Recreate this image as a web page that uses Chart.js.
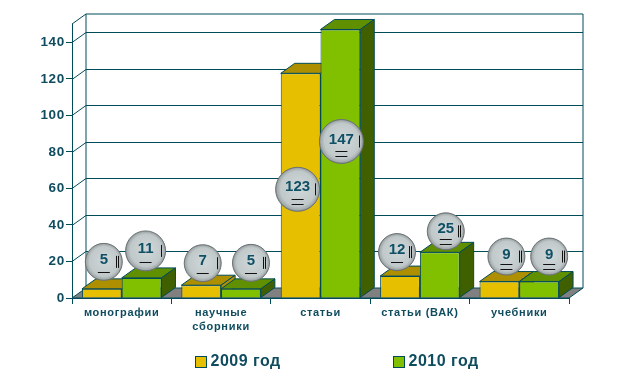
<!doctype html>
<html lang="ru">
<head>
<meta charset="utf-8">
<title>Публикации</title>
<style>
  html, body { margin: 0; background: #fff; }
  canvas { display: block; }
</style>
</head>
<body>
<canvas id="myChart" width="624" height="382"></canvas>
<script src="https://cdn.jsdelivr.net/npm/chart.js"></script>
<script>
const categories = ['монографии', ['научные', 'сборники'], 'статьи', 'статьи (ВАК)', 'учебники'];
const seriesNames = ['2009 год', '2010 год'];
const values2009 = [5, 7, 123, 12, 9];
const values2010 = [11, 5, 147, 25, 9];
const yTicks = [0, 20, 40, 60, 80, 100, 120, 140];

const LINE = '#004b5a';
const TEXT = '#0f4c5f';
const DEPTH_X = 14;
const DEPTH_Y = 10;
const faces = [
  { front: '#e6bf00', top: '#ad8f00', side: '#ad8f00' },
  { front: '#80c000', top: '#609000', side: '#406000' }
];

// where the value balloons sit relative to the top of their bar
const balloons = [
  { dx: [2, 1.5, -3, -3, 7], dy: [-27, -22, 116, -24, -25], r: [18.5, 18.5, 22, 18.5, 18.5], rules: [1, 1, 2, 1, 2], marks: [2, 1, 1, 2, 2] },
  { dx: [4, 10, 1, 6, 10], dy: [-27, -26, 112, -21, -25], r: [20, 18.5, 22, 18.5, 18.5], rules: [1, 1, 2, 2, 2], marks: [1, 2, 1, 2, 2] }
];

function poly(ctx, pts, fill) {
  ctx.beginPath();
  pts.forEach((p, i) => i ? ctx.lineTo(p[0], p[1]) : ctx.moveTo(p[0], p[1]));
  ctx.closePath();
  if (fill) {
    ctx.fillStyle = fill;
    ctx.fill();
  }
  ctx.strokeStyle = LINE;
  ctx.lineWidth = 1;
  ctx.stroke();
}

function line(ctx, x1, y1, x2, y2) {
  ctx.beginPath();
  ctx.moveTo(x1, y1);
  ctx.lineTo(x2, y2);
  ctx.strokeStyle = LINE;
  ctx.lineWidth = 1;
  ctx.stroke();
}

function drawBalloon(ctx, x, y, r, label, rules, marks) {
  ctx.save();
  ctx.beginPath();
  ctx.arc(x, y, r, 0, Math.PI * 2);
  const g = ctx.createRadialGradient(x + r * 0.1, y - r * 0.1, r * 0.2, x, y, r);
  g.addColorStop(0, '#ccd4d6');
  g.addColorStop(0.75, '#c0c8ca');
  g.addColorStop(0.93, '#a2aaac');
  g.addColorStop(1, '#7f8688');
  ctx.fillStyle = g;
  ctx.fill();
  ctx.strokeStyle = '#6c7375';
  ctx.lineWidth = 1;
  ctx.stroke();

  ctx.fillStyle = '#0f5065';
  ctx.font = 'bold 15px "Liberation Sans", Arial, sans-serif';
  ctx.letterSpacing = '0px';
  ctx.textAlign = 'center';
  ctx.textBaseline = 'middle';
  ctx.fillText(label, x, y - 2);

  ctx.strokeStyle = '#111';
  for (let i = 0; i < rules; i++) {
    const ry = Math.round(y + r * 0.55 - (rules - 1) * 2.5 + i * 5) + 0.5;
    ctx.beginPath();
    ctx.moveTo(x - 6, ry);
    ctx.lineTo(x + 6, ry);
    ctx.stroke();
  }
  for (let i = 0; i < marks; i++) {
    const mx = Math.round(x + r * 0.78 - i * 2) + 0.5;
    ctx.beginPath();
    ctx.moveTo(mx, y - 6);
    ctx.lineTo(mx, y + 6);
    ctx.stroke();
  }
  ctx.restore();
}

const pseudo3d = {
  id: 'pseudo3d',
  beforeDraw(chart) {
    // tick labels of the original are spaced out a little
    chart.ctx.letterSpacing = '0.7px';
  },
  beforeDatasetsDraw(chart) {
    const { ctx, chartArea: a, scales } = chart;
    ctx.save();
    const bx = a.left + DEPTH_X;
    const rx = a.right + DEPTH_X;

    poly(ctx, [[a.left, a.bottom], [a.right, a.bottom], [rx, a.bottom - DEPTH_Y], [bx, a.bottom - DEPTH_Y]], '#808080');

    yTicks.slice(1).forEach(v => {
      const y = Math.round(scales.y.getPixelForValue(v)) + 0.5;
      line(ctx, a.left, y, bx, y - DEPTH_Y);
      line(ctx, bx, y - DEPTH_Y, rx, y - DEPTH_Y);
    });
    line(ctx, a.left, a.top, bx, a.top - DEPTH_Y);
    line(ctx, bx, a.top - DEPTH_Y, rx, a.top - DEPTH_Y);
    line(ctx, bx, a.top - DEPTH_Y, bx, a.bottom - DEPTH_Y);
    line(ctx, rx, a.top - DEPTH_Y, rx, a.bottom - DEPTH_Y);

    categories.forEach((c, j) => {
      chart.data.datasets.forEach((d, i) => {
        const bar = chart.getDatasetMeta(i).data[j];
        const w = bar.width / 2;
        const l = bar.x - w, r = bar.x + w, t = bar.y, b = bar.base;
        poly(ctx, [[l, t], [r, t], [r + DEPTH_X, t - DEPTH_Y], [l + DEPTH_X, t - DEPTH_Y]], faces[i].top);
        poly(ctx, [[r, t], [r + DEPTH_X, t - DEPTH_Y], [r + DEPTH_X, b - DEPTH_Y], [r, b]], faces[i].side);
      });
    });
    ctx.restore();
  },
  afterDatasetsDraw(chart) {
    const { ctx } = chart;
    chart.data.datasets.forEach((d, i) => {
      chart.getDatasetMeta(i).data.forEach((bar, j) => {
        const b = balloons[i];
        drawBalloon(ctx, bar.x + b.dx[j], bar.y + b.dy[j], b.r[j], String(d.data[j]), b.rules[j], b.marks[j]);
      });
    });
  },
  afterDraw(chart) {
    const { ctx } = chart;
    ctx.save();
    ctx.font = 'bold 16px "Liberation Sans", Arial, sans-serif';
    ctx.letterSpacing = '0.5px';
    ctx.textBaseline = 'middle';
    ctx.textAlign = 'left';
    [195.5, 393.5].forEach((x, i) => {
      ctx.fillStyle = faces[i].front;
      ctx.fillRect(x, 356.5, 11, 11);
      ctx.strokeStyle = LINE;
      ctx.lineWidth = 1;
      ctx.strokeRect(x, 356.5, 11, 11);
      ctx.fillStyle = TEXT;
      ctx.fillText(seriesNames[i], x + 15, 362);
    });
    ctx.restore();
    ctx.letterSpacing = '0px';
  }
};

const data = {
  labels: categories,
  datasets: [values2009, values2010].map((v, i) => ({
    label: seriesNames[i],
    data: v,
    backgroundColor: faces[i].front,
    borderColor: LINE,
    borderWidth: 1,
    categoryPercentage: 0.8,
    barPercentage: 1
  }))
};

const config = {
  type: 'bar',
  data,
  plugins: [pseudo3d],
  options: {
    responsive: false,
    animation: false,
    layout: { padding: { top: 24, right: 55 } },
    plugins: { legend: { display: false }, tooltip: { enabled: false } },
    scales: {
      x: {
        afterFit(scale) { scale.height = 84; },
        grid: { drawOnChartArea: false, tickLength: 6, color: LINE },
        border: { color: LINE },
        ticks: {
          color: TEXT,
          maxRotation: 0,
          autoSkip: false,
          padding: 1,
          font: { family: '"Liberation Sans", Arial, sans-serif', size: 11, weight: 'bold', lineHeight: 1.36 }
        }
      },
      y: {
        min: 0,
        max: 150,
        afterFit(scale) { scale.width = 72; },
        afterBuildTicks(scale) { scale.ticks = yTicks.map(v => ({ value: v })); },
        grid: { drawOnChartArea: false, tickLength: 6, color: LINE },
        border: { color: LINE },
        ticks: {
          color: TEXT,
          padding: 1,
          font: { family: '"Liberation Sans", Arial, sans-serif', size: 13.5, weight: 'bold' }
        }
      }
    }
  }
};

const myChart = new Chart(document.getElementById('myChart'), config);
</script>
</body>
</html>
